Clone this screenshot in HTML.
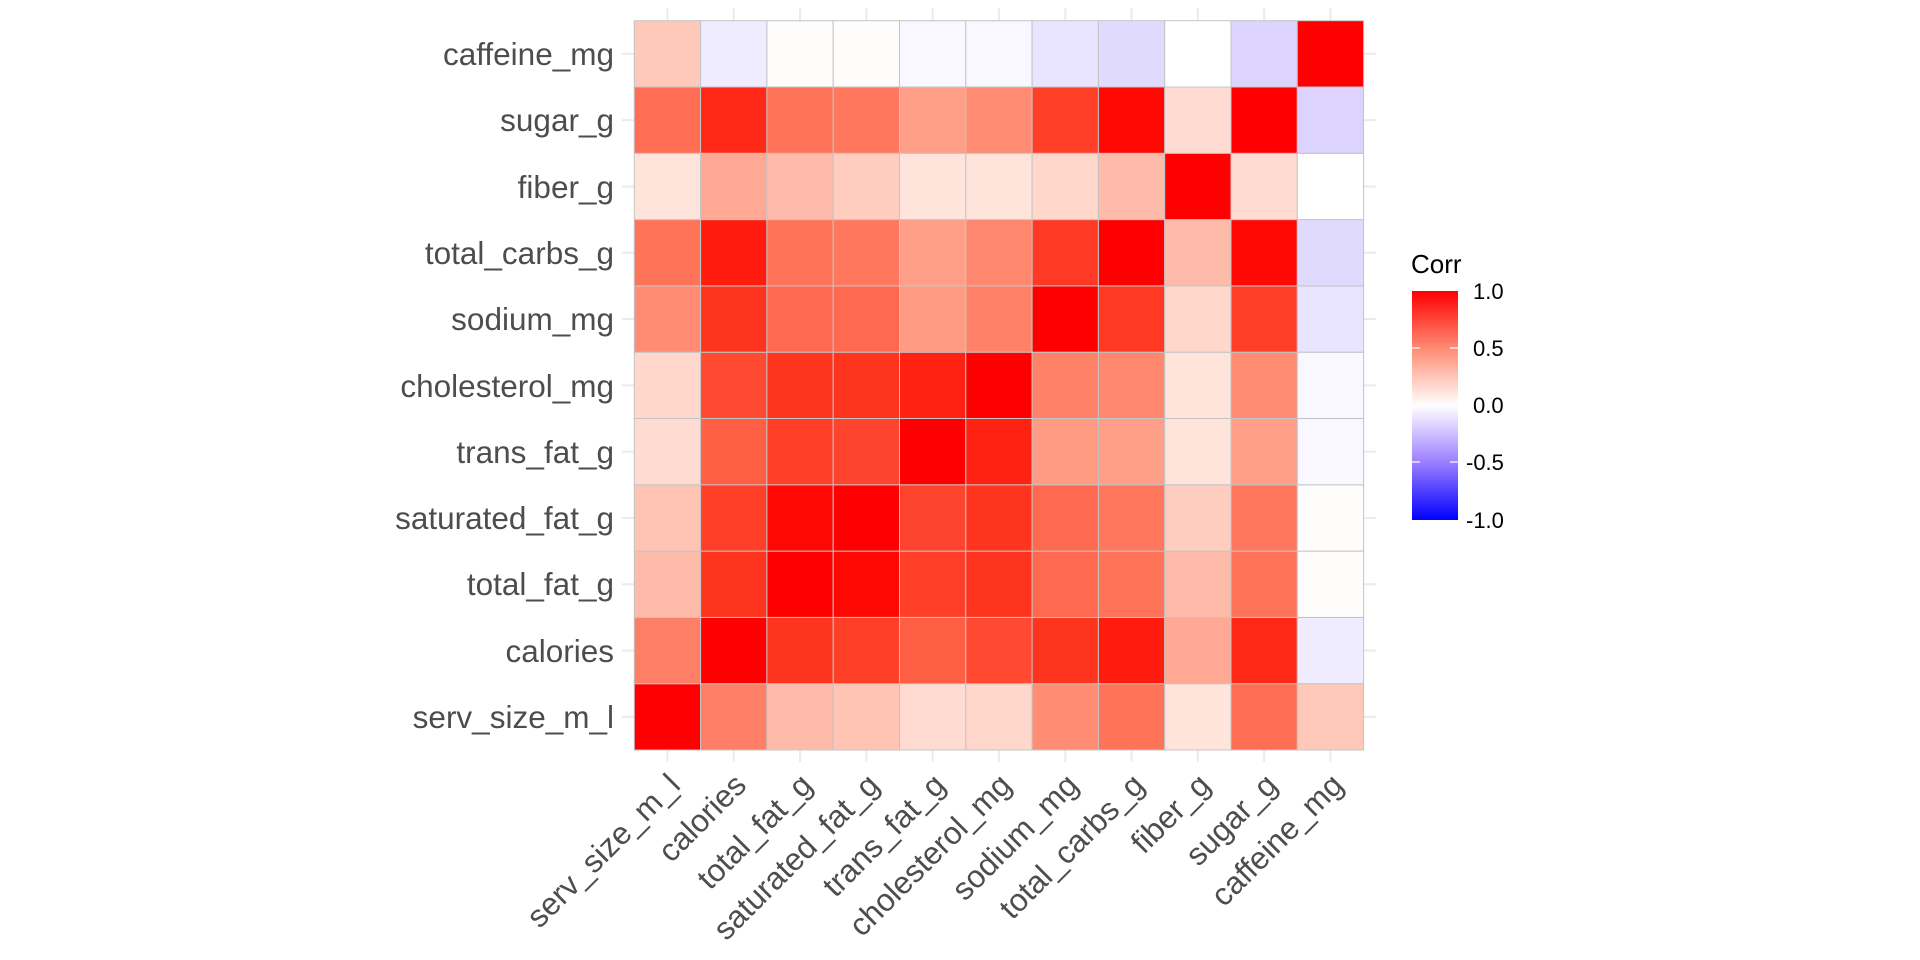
<!DOCTYPE html>
<html><head><meta charset="utf-8"><style>
html,body{margin:0;padding:0;background:#fff;}
svg{display:block;font-family:"Liberation Sans",Arial,sans-serif;}
.yl{font-size:31.5px;fill:#4d4d4d;text-anchor:end;}
.xl{font-size:31.5px;fill:#4d4d4d;text-anchor:end;}
.lg{font-size:22px;fill:#000;}
</style></head><body>
<svg id="s" width="1920" height="960" viewBox="0 0 1920 960" xmlns="http://www.w3.org/2000/svg">
<defs><linearGradient id="gr" x1="0" y1="1" x2="0" y2="0">
<stop offset="0" stop-color="#0000ff"/><stop offset="0.25" stop-color="#9b7dff"/><stop offset="0.5" stop-color="#ffffff"/><stop offset="0.75" stop-color="#ff8b73"/><stop offset="1" stop-color="#ff0000"/></linearGradient></defs>
<g id="grid"></g>
<g id="cells"></g>
<g>
<text class="yl" x="614" y="65">caffeine_mg</text>
<text class="yl" x="614" y="131">sugar_g</text>
<text class="yl" x="614" y="198">fiber_g</text>
<text class="yl" x="614" y="264">total_carbs_g</text>
<text class="yl" x="614" y="330">sodium_mg</text>
<text class="yl" x="614" y="397">cholesterol_mg</text>
<text class="yl" x="614" y="463">trans_fat_g</text>
<text class="yl" x="614" y="529">saturated_fat_g</text>
<text class="yl" x="614" y="595">total_fat_g</text>
<text class="yl" x="614" y="662">calories</text>
<text class="yl" x="614" y="728">serv_size_m_l</text>
</g>
<g>
<text class="xl" transform="translate(682,787) rotate(-45)">serv_size_m_l</text>
<text class="xl" transform="translate(748,787) rotate(-45)">calories</text>
<text class="xl" transform="translate(814,787) rotate(-45)">total_fat_g</text>
<text class="xl" transform="translate(881,787) rotate(-45)">saturated_fat_g</text>
<text class="xl" transform="translate(947,787) rotate(-45)">trans_fat_g</text>
<text class="xl" transform="translate(1013,787) rotate(-45)">cholesterol_mg</text>
<text class="xl" transform="translate(1080,787) rotate(-45)">sodium_mg</text>
<text class="xl" transform="translate(1146,787) rotate(-45)">total_carbs_g</text>
<text class="xl" transform="translate(1212,787) rotate(-45)">fiber_g</text>
<text class="xl" transform="translate(1279,787) rotate(-45)">sugar_g</text>
<text class="xl" transform="translate(1345,787) rotate(-45)">caffeine_mg</text>
</g>
<text x="1411" y="273" style="font-size:26px;fill:#000">Corr</text>
<rect x="1412" y="291" width="46" height="229" fill="url(#gr)"/>
<g stroke="#fff" stroke-width="1.2">
<line x1="1412" y1="348" x2="1420" y2="348"/><line x1="1450" y1="348" x2="1458" y2="348"/>
<line x1="1412" y1="405" x2="1420" y2="405"/><line x1="1450" y1="405" x2="1458" y2="405"/>
<line x1="1412" y1="462" x2="1420" y2="462"/><line x1="1450" y1="462" x2="1458" y2="462"/>
</g>
<text class="lg" x="1473" y="299">1.0</text>
<text class="lg" x="1473" y="356">0.5</text>
<text class="lg" x="1473" y="413">0.0</text>
<text class="lg" x="1466" y="470">-0.5</text>
<text class="lg" x="1466" y="528">-1.0</text>
</svg>
<script>
var L=634.3,T=20.7,W=66.3,n=11;
var M={};
function s(a,b,v){M[a+","+b]=v;M[b+","+a]=v;}
var d=[
[0,1,.55],[0,2,.3],[0,3,.26],[0,4,.16],[0,5,.18],[0,6,.5],[0,7,.6],[0,8,.12],[0,9,.62],[0,10,.24],
[1,2,.84],[1,3,.8],[1,4,.68],[1,5,.76],[1,6,.84],[1,7,.92],[1,8,.38],[1,9,.88],[1,10,-.1],
[2,3,.98],[2,4,.8],[2,5,.84],[2,6,.64],[2,7,.6],[2,8,.3],[2,9,.6],[2,10,.01],
[3,4,.78],[3,5,.84],[3,6,.64],[3,7,.58],[3,8,.22],[3,9,.58],[3,10,.01],
[4,5,.9],[4,6,.44],[4,7,.42],[4,8,.12],[4,9,.42],[4,10,-.04],
[5,6,.54],[5,7,.52],[5,8,.12],[5,9,.5],[5,10,-.04],
[6,7,.82],[6,8,.18],[6,9,.8],[6,10,-.14],
[7,8,.3],[7,9,.98],[7,10,-.19],
[8,9,.16],[8,10,0],[9,10,-.22]];
d.forEach(function(e){s(e[0],e[1],e[2]);});
function col(r){var R,G,B;
 if(r>=0){R=255;G=255*Math.pow(1-r,0.87);B=255*Math.pow(1-r,1.15);}
 else{var a=-r;R=255*Math.pow(1-a,0.6);G=255*Math.pow(1-a,0.75);B=255;}
 return "rgb("+Math.round(R)+","+Math.round(G)+","+Math.round(B)+")";}
var ns="http://www.w3.org/2000/svg",g=document.getElementById("cells"),gg=document.getElementById("grid");
for(var i=0;i<n;i++){
 var c=L+W*(i+.5);
 var l=document.createElementNS(ns,"line");l.setAttribute("x1",c);l.setAttribute("x2",c);l.setAttribute("y1",8);l.setAttribute("y2",762);l.setAttribute("stroke","#ebebeb");l.setAttribute("stroke-width","2");gg.appendChild(l);
 var cy=T+W*(i+.5);
 l=document.createElementNS(ns,"line");l.setAttribute("y1",cy);l.setAttribute("y2",cy);l.setAttribute("x1",622);l.setAttribute("x2",1376);l.setAttribute("stroke","#ebebeb");l.setAttribute("stroke-width","2");gg.appendChild(l);
}
for(var x=0;x<n;x++)for(var y=0;y<n;y++){
 var v=(x==y)?1:M[x+","+y];
 var r=document.createElementNS(ns,"rect");
 r.setAttribute("x",L+W*x);r.setAttribute("y",T+W*(n-1-y));
 r.setAttribute("width",W);r.setAttribute("height",W);
 r.setAttribute("fill",col(v));r.setAttribute("stroke","#c4c4c4");r.setAttribute("stroke-width","1");
 g.appendChild(r);}
</script>
</body></html>
